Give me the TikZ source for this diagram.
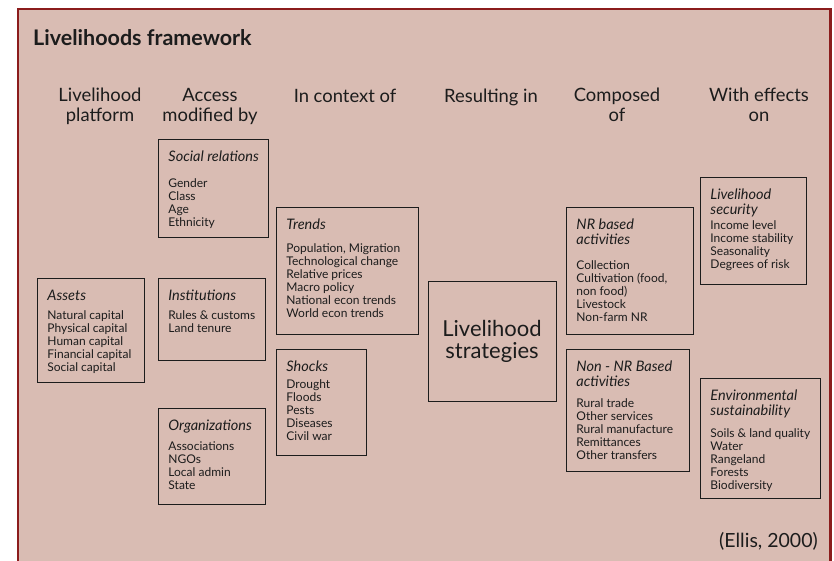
\documentclass[tikz,border=0pt]{standalone}
\usepackage{fontspec}
\setmainfont{Lato}
\usepackage{xcolor}
\usepackage{tikz}
\definecolor{framered}{RGB}{139,28,28}
\definecolor{paper}{RGB}{217,188,179}
\definecolor{ink}{RGB}{28,28,28}
\newcommand{\hdfont}{\fontsize{14.5}{15.5}\selectfont\itshape}
\newcommand{\itemfont}{\fontsize{12}{13}\selectfont\upshape}
\newcommand{\phead}[1]{\hdfont\rule{0pt}{22pt}#1\par\itemfont}
\newcommand{\boxbody}[3]{\parbox[t][#2][t]{#1}{\raggedright\leftskip=10pt #3}}
\tikzstyle{every node}=[inner sep=0pt,text=ink]
\tikzstyle{panel}=[draw=ink,line width=0.9pt,anchor=north west]
\tikzstyle{column}=[anchor=base,align=center,font=\fontsize{18.4}{19.5}\selectfont]
\tikzstyle{strategy}=[draw=ink,line width=0.9pt,align=center,minimum width=128pt,minimum height=120pt,font=\fontsize{22}{22.5}\selectfont]

\begin{document}
\begin{tikzpicture}[x=1pt,y=-1pt]
    \useasboundingbox (0,0) rectangle (834,560);
    \clip (0,0) rectangle (834,560);
    \draw[framered,line width=2.8pt,fill=paper] (18,9) rectangle (830.5,590);

    \node[anchor=base west,font=\fontsize{21.5}{23}\selectfont\bfseries] (title) at (33,45) {Livelihoods framework};

    % column headings (base = last line)
    \node[column] (platform) at (100,121) {Livelihood\\platform};
    \node[column] (access) at (210,121) {Access\\modified by};
    \node[column] (context) at (345,102) {In context of};
    \node[column] (result) at (491,102) {Resulting in};
    \node[column] (composed) at (617,121) {Composed\\of};
    \node[column] (effects) at (759,121) {With effects\\on};

    % livelihood platform
    \node[panel] (assets) at (37,278) {\boxbody{107pt}{104pt}{\phead{Assets}\vspace{6pt}Natural capital\\Physical capital\\Human capital\\Financial capital\\Social capital}};

    % access modified by
    \node[panel] (social) at (158,139) {\boxbody{110pt}{98pt}{\phead{Social relations}\vspace{13pt}Gender\\Class\\Age\\Ethnicity}};
    \node[panel] (institutions) at (158,278) {\boxbody{107pt}{82pt}{\phead{Institutions}\vspace{6pt}Rules \& customs\\Land tenure}};
    \node[panel] (organizations) at (158,408) {\boxbody{107pt}{96pt}{\phead{Organizations}\vspace{7pt}Associations\\NGOs\\Local admin\\State}};

    % in context of
    \node[panel] (trends) at (276,207) {\boxbody{142pt}{127pt}{\phead{Trends}\vspace{10pt}Population, Migration\\Technological change\\Relative prices\\Macro policy\\National econ trends\\World econ trends}};
    \node[panel] (shocks) at (276,349) {\boxbody{90pt}{106pt}{\phead{Shocks}\vspace{4pt}Drought\\Floods\\Pests\\Diseases\\Civil war}};

    % resulting in
    \node[strategy] (strategies) at (492,341.5) {Livelihood\\strategies};

    % composed of
    \node[panel] (nrbased) at (566,207) {\boxbody{127pt}{127pt}{\phead{NR based\\activities}\vspace{12pt}Collection\\Cultivation (food,\\non food)\\Livestock\\Non-farm NR}};
    \node[panel] (nonnr) at (566,349) {\boxbody{123pt}{122pt}{\phead{Non - NR Based\\activities}\vspace{8pt}Rural trade\\Other services\\Rural manufacture\\Remittances\\Other transfers}};

    % with effects on
    \node[panel] (security) at (700,177) {\boxbody{106pt}{107pt}{\phead{Livelihood\\security}\vspace{2pt}Income level\\Income stability\\Seasonality\\Degrees of risk}};
    \node[panel] (environment) at (700,378) {\boxbody{120pt}{120pt}{\phead{Environmental\\sustainability}\vspace{9pt}Soils \& land quality\\Water\\Rangeland\\Forests\\Biodiversity}};

    \node[anchor=base east,font=\fontsize{19.5}{21}\selectfont] (source) at (818,547) {(Ellis, 2000)};
\end{tikzpicture}
\end{document}
